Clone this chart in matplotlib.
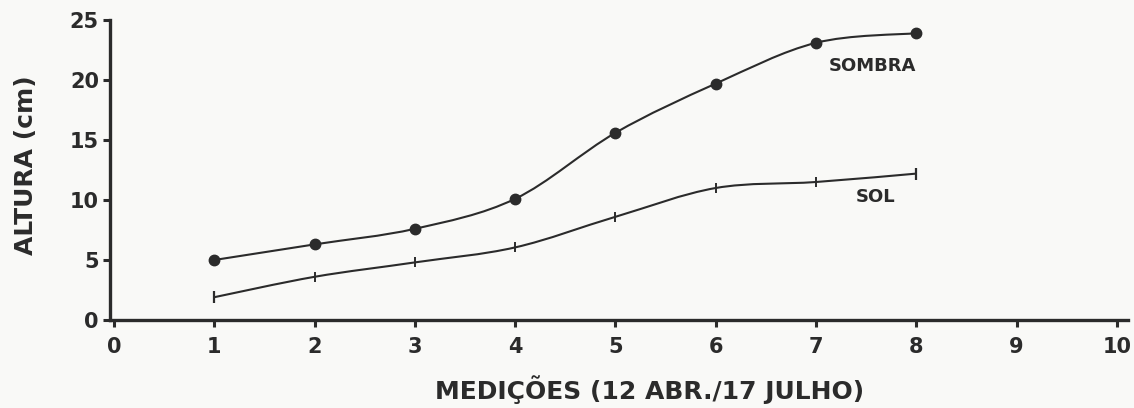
import matplotlib
matplotlib.use("Agg")
import matplotlib.pyplot as plt
import numpy as np
from matplotlib.path import Path
from matplotlib.patches import PathPatch

# Plant height per measurement (cm), shade vs. full sun
medicoes = [1, 2, 3, 4, 5, 6, 7, 8]
altura_sombra = [5.0, 6.3, 7.6, 10.1, 15.6, 19.7, 23.1, 23.9]
altura_sol = [1.9, 3.6, 4.8, 6.05, 8.6, 11.0, 11.5, 12.2]

x_ticks = [0, 1, 2, 3, 4, 5, 6, 7, 8, 9, 10]
y_ticks = [0, 5, 10, 15, 20, 25]

INK = "#2b2b2b"
PAPER = "#f9f9f7"


def smooth_path(xs, ys):
    """Catmull-Rom curve through the points, as cubic Bezier segments."""
    pts = np.column_stack([xs, ys]).astype(float)
    n = len(pts)
    verts = [pts[0]]
    codes = [Path.MOVETO]
    for i in range(n - 1):
        p0 = pts[i - 1] if i > 0 else pts[i]
        p1 = pts[i]
        p2 = pts[i + 1]
        p3 = pts[i + 2] if i + 2 < n else pts[i + 1]
        c1 = p1 + (p2 - p0) / 6.0
        c2 = p2 - (p3 - p1) / 6.0
        verts += [c1, c2, p2]
        codes += [Path.CURVE4] * 3
    return Path(verts, codes)


fig = plt.figure(figsize=(11.34, 4.08), dpi=100, facecolor=PAPER)
ax = fig.add_axes([0.097, 0.2157, 0.8977, 0.7353])
ax.set_facecolor(PAPER)

for xs, ys in [(medicoes, altura_sombra), (medicoes, altura_sol)]:
    ax.add_patch(PathPatch(smooth_path(xs, ys), fill=False, lw=1.5,
                           edgecolor=INK, clip_on=False, zorder=2))

ax.plot(medicoes, altura_sombra, ls="none", marker="o", ms=7.5,
        color=INK, clip_on=False, zorder=3)
ax.plot(medicoes, altura_sol, ls="none", marker="|", ms=7, mew=1.4,
        color=INK, clip_on=False, zorder=3)
# slightly longer end bars on the sun series
ax.plot([medicoes[0], medicoes[-1]], [altura_sol[0], altura_sol[-1]],
        ls="none", marker="|", ms=9, mew=1.6, color=INK, clip_on=False, zorder=3)

ax.set_xlim(-0.04, 10.11)
ax.set_ylim(0, 25)
ax.set_xticks(x_ticks)
ax.set_yticks(y_ticks)

for side in ["top", "right"]:
    ax.spines[side].set_visible(False)
for side in ["left", "bottom"]:
    ax.spines[side].set_linewidth(2.4)
    ax.spines[side].set_color(INK)

ax.tick_params(axis="both", direction="out", length=5, width=2.2, color=INK,
               labelsize=15, labelcolor=INK)
ax.tick_params(axis="x", pad=7)
ax.tick_params(axis="y", pad=3)
for lab in ax.get_xticklabels() + ax.get_yticklabels():
    lab.set_fontweight("bold")

ax.text(7.56, 21.2, "SOMBRA", fontsize=13, fontweight="bold", color=INK,
        ha="center", va="center")
ax.text(7.59, 10.25, "SOL", fontsize=13, fontweight="bold", color=INK,
        ha="center", va="center")

fig.text(0.573, 0.045, "MEDIÇÕES (12 ABR./17 JULHO)", fontsize=18,
         fontweight="bold", color=INK, ha="center", va="center")
fig.text(0.023, 0.595, "ALTURA (cm)", fontsize=18, fontweight="bold",
         color=INK, ha="center", va="center", rotation=90)

fig.savefig("out.png", dpi=100, facecolor=PAPER)
